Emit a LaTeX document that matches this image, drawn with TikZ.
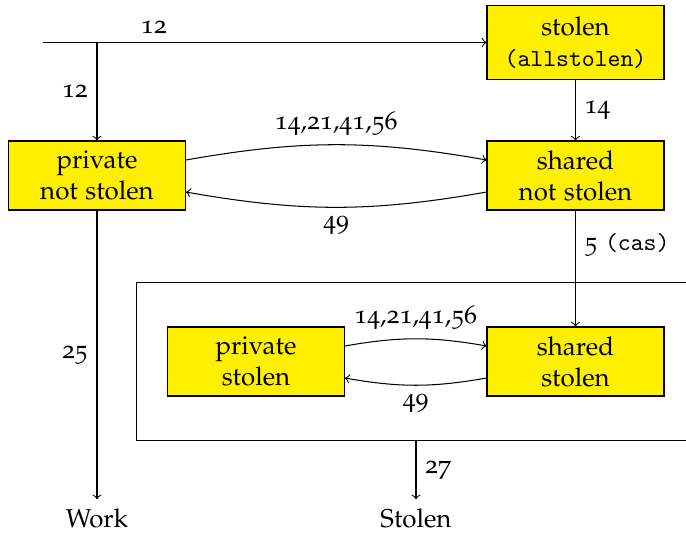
\documentclass[tikz,border=0pt]{standalone}
\usepackage[T1]{fontenc}
\usepackage[osf]{mathpazo}
\font\casfont="[lmmono10-regular]" at 9.5pt
\newcommand{\code}[1]{{\casfont #1}}
\definecolor{boxyellow}{RGB}{255,240,0}

\begin{document}
\begin{tikzpicture}[x=0.387pt,y=0.387pt,>=to,
  statebox/.style={draw, fill=boxyellow, minimum width=68.5pt, minimum height=26.7pt, align=center}]
\useasboundingbox (0,0) rectangle (686,535);
\node[draw, minimum width=216.7pt, minimum height=61.5pt] (stolenarea) at (416,173.5) {};
\node[statebox, minimum height=29pt] (stolen) at (575.5,492.5) {stolen\\\code{(allstolen)}};
\node[statebox] (privns) at (97,359.5) {private\\not stolen};
\node[statebox] (sharedns) at (575.5,359.5) {shared\\not stolen};
\node[statebox] (privst) at (256,173.5) {private\\stolen};
\node[statebox] (sharedst) at (575.5,173.5) {shared\\stolen};
\node (work) at (97,17) {Work};
\node (stolenexit) at (416,17) {Stolen};
\coordinate (start) at (43,492.5);
\coordinate (split) at (97,492.5);
\draw[->] (start) -- node[pos=.25, above] {12} (stolen);
\draw[->] (split) -- node[left] {12} (privns);
\draw[->] (stolen) -- node[right] {14} (sharedns);
\draw[->] ([yshift=6pt]privns.east) to[bend left=10] node[above] {14,21,41,56} ([yshift=6pt]sharedns.west);
\draw[->] ([yshift=-6.4pt]sharedns.west) to[bend left=10] node[below] {49} ([yshift=-6.4pt]privns.east);
\draw[->] (sharedns) -- node[right, pos=.3] {5 \code{(cas)}} (sharedst);
\draw[->] ([yshift=6pt]privst.east) to[bend left=10] node[above] {14,21,41,56} ([yshift=6pt]sharedst.west);
\draw[->] ([yshift=-6.4pt]sharedst.west) to[bend left=10] node[below] {49} ([yshift=-6.4pt]privst.east);
\draw[->] (privns) -- node[left] {25} (work);
\draw[->] (stolenarea) -- node[right] {27} (stolenexit);
\end{tikzpicture}
\end{document}
